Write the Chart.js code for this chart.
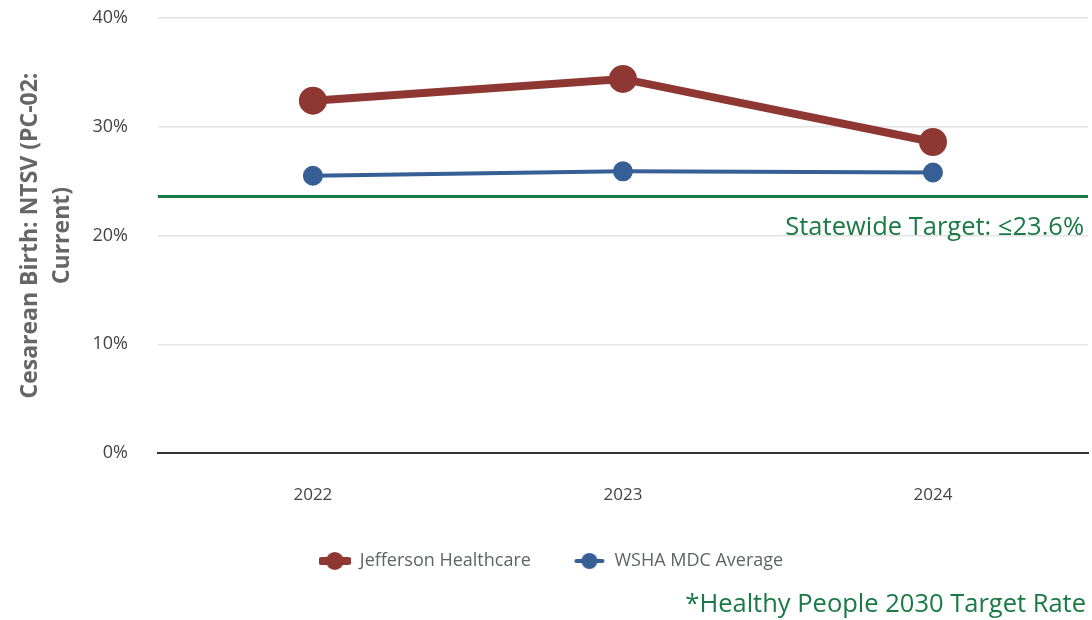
<!DOCTYPE html>
<html>
<head>
<meta charset="utf-8">
<script src="https://cdn.jsdelivr.net/npm/chart.js@4.4.1/dist/chart.umd.min.js"></script>
<style>
  html, body { margin: 0; padding: 0; background: #fff; }
  #wrap { width: 1092px; height: 620px; position: relative; }
</style>
</head>
<body>
<div id="wrap"><canvas id="c"></canvas></div>
<script>
// data
var years = ["2022", "2023", "2024"];
var jefferson = [32.4, 34.4, 28.6];
var wsha = [25.5, 25.9, 25.8];
var yTicks = [0, 10, 20, 30, 40];
var targetValue = 23.6;
var targetLabel = "Statewide Target: \u226423.6%";
var footNote = "*Healthy People 2030 Target Rate";

var red = "#8f3733";
var blue = "#365f96";
var green = "#1a7a45";
var font = "'Open Sans', 'Noto Sans', sans-serif";

// legend marker: line with a dot in the middle
function legendMark(color, lw, r) {
    var cv = document.createElement('canvas');
    cv.width = 32; cv.height = 20;
    var cx = cv.getContext('2d');
    cx.strokeStyle = color;
    cx.lineWidth = lw;
    cx.lineCap = 'round';
    cx.beginPath(); cx.moveTo(3, 10); cx.lineTo(29, 10); cx.stroke();
    cx.fillStyle = color;
    cx.beginPath(); cx.arc(16, 10, r, 0, Math.PI * 2); cx.fill();
    return cv;
}

var targetPlugin = {
    id: 'target',
    afterDatasetsDraw: function(chart) {
        var ctx = chart.ctx;
        var area = chart.chartArea;
        var y = chart.scales.y.getPixelForValue(targetValue);
        ctx.save();
        ctx.strokeStyle = green;
        ctx.lineWidth = 3;
        ctx.beginPath();
        ctx.moveTo(area.left, y);
        ctx.lineTo(area.right, y);
        ctx.stroke();
        ctx.fillStyle = green;
        ctx.font = "25.5px " + font;
        ctx.textAlign = 'right';
        ctx.textBaseline = 'middle';
        ctx.fillText(targetLabel, area.right - 4, y + 31);
        ctx.fillText(footNote, chart.width - 6, 605);
        ctx.restore();
    }
};

new Chart(document.getElementById('c'), {
    type: 'line',
    data: {
        labels: years,
        datasets: [{
            label: 'Jefferson Healthcare',
            data: jefferson,
            borderColor: red,
            backgroundColor: red,
            borderWidth: 8,
            pointRadius: 10,
            pointHoverRadius: 10,
            pointStyle: 'circle'
        }, {
            label: 'WSHA MDC Average',
            data: wsha,
            borderColor: blue,
            backgroundColor: blue,
            borderWidth: 4,
            pointRadius: 8,
            pointHoverRadius: 8,
            pointStyle: 'circle'
        }]
    },
    options: {
        responsive: true,
        maintainAspectRatio: false,
        animation: false,
        layout: { autoPadding: false, padding: { top: 18, right: 4, left: 14, bottom: 40 } },
        plugins: {
            legend: {
                position: 'bottom',
                labels: {
                    color: '#5f6368',
                    font: { family: font, size: 18 },
                    padding: 42.5,
                    boxHeight: 20,
                    usePointStyle: true,
                    pointStyleWidth: 32,
                    generateLabels: function(chart) {
                        return chart.data.datasets.map(function(ds, i) {
                            return {
                                text: ds.label,
                                fontColor: '#5f6368',
                                pointStyle: legendMark(ds.borderColor, ds.borderWidth, i == 0 ? 9 : 8),
                                datasetIndex: i,
                                hidden: false,
                                lineWidth: 0
                            };
                        });
                    }
                }
            },
            tooltip: { enabled: false }
        },
        scales: {
            x: {
                offset: true,
                grid: { display: true, drawOnChartArea: false, drawTicks: true, tickLength: 28, tickColor: 'rgba(0,0,0,0)' },
                border: { color: '#333', width: 2 },
                ticks: { color: '#444', font: { family: font, size: 17 }, padding: 4 }
            },
            y: {
                min: 0,
                max: 40,
                afterBuildTicks: function(axis) {
                    axis.ticks = yTicks.map(function(v) { return { value: v }; });
                },
                grid: { color: '#e3e3e3', lineWidth: 1.5, drawTicks: true, tickLength: 26, tickColor: 'rgba(0,0,0,0)' },
                border: { display: false },
                ticks: {
                    color: '#444',
                    font: { family: font, size: 18 },
                    padding: 4,
                    callback: function(v) { return v + '%'; }
                },
                title: {
                    display: true,
                    text: ['Cesarean Birth: NTSV (PC-02:', 'Current)'],
                    color: '#666',
                    font: { family: font, size: 23, weight: 'bold', lineHeight: 1.4 },
                    padding: { top: 0, bottom: 10 }
                }
            }
        }
    },
    plugins: [targetPlugin]
});
</script>
</body>
</html>
